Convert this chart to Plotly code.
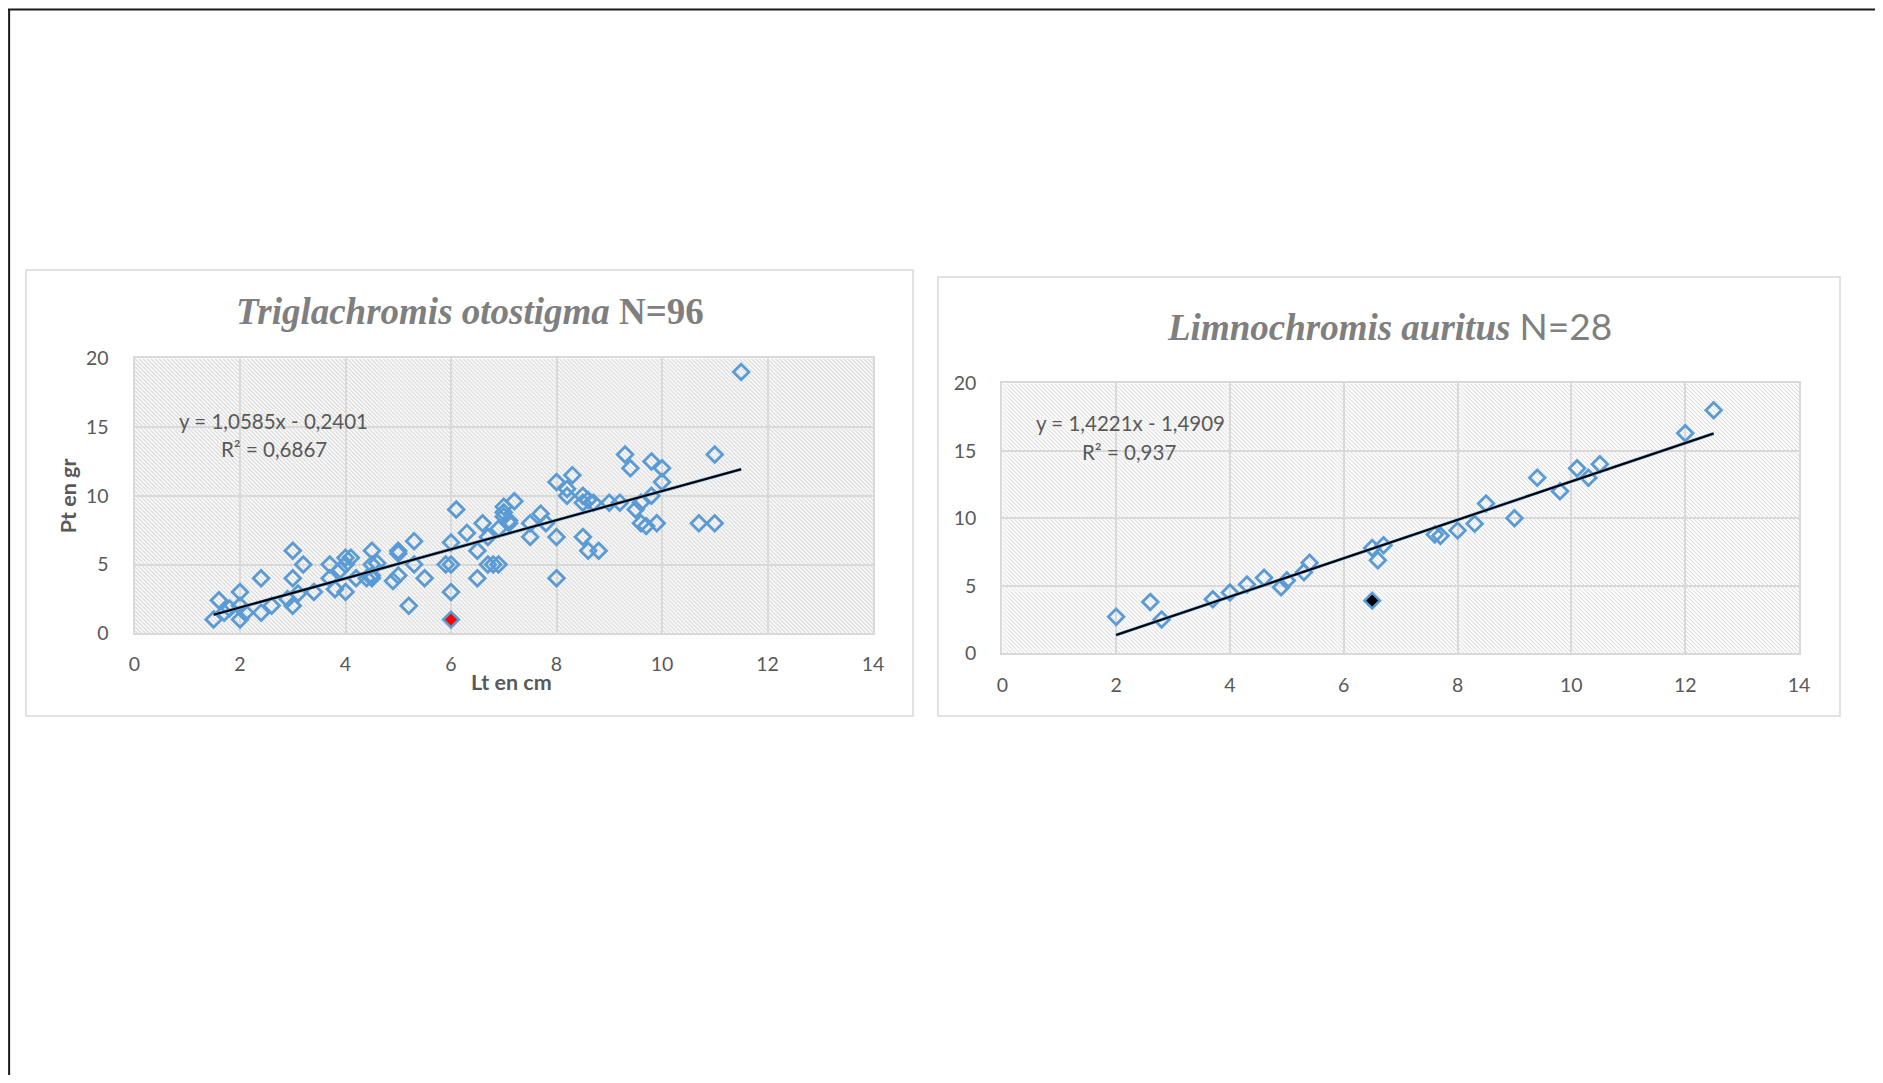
import base64
import plotly.graph_objects as go

# page is 1883x1083; the browser body keeps its default 8px margin,
# so the figure is 16px smaller and every reference pixel is shifted by OFF.
OFF = 8
W, H = 1883 - 2 * OFF, 1083 - 2 * OFF

# ---------------- data ----------------
# Triglachromis otostigma (N=96) : Lt (cm) vs Pt (g)
tri_lt = [1.5, 1.6, 1.7, 1.8, 2.0, 2.0, 2.0, 2.1, 2.4, 2.4, 2.6, 2.9, 3.0, 3.0, 3.0, 3.1,
          3.2, 3.4, 3.7, 3.7, 3.8, 3.9, 4.0, 4.0, 4.0, 4.1, 4.2, 4.4, 4.5, 4.5, 4.5, 4.6,
          4.5, 4.9, 5.0, 5.0, 5.0, 5.2, 5.3, 5.3, 5.5, 5.9, 6.0, 6.0, 6.0, 6.1, 6.3, 6.5,
          6.5, 6.6, 6.7, 6.7, 6.8, 6.9, 6.9, 7.0, 7.0, 7.1, 7.1, 7.2, 7.5, 7.5, 7.7, 7.8,
          8.0, 8.0, 8.0, 8.2, 8.2, 8.3, 8.5, 8.5, 8.5, 8.6, 8.6, 8.7, 8.8, 9.0, 9.2, 9.3,
          9.4, 9.5, 9.6, 9.7, 9.6, 9.8, 9.8, 9.9, 10.0, 10.0, 10.7, 11.0, 11.0, 11.5, 7.0]
tri_pt = [1.0, 2.4, 1.5, 1.8, 3.0, 1.0, 2.0, 1.5, 4.0, 1.5, 2.0, 2.5, 6.0, 4.0, 2.0, 2.9,
          5.0, 3.0, 5.0, 4.0, 3.2, 4.6, 5.5, 5.0, 3.0, 5.5, 4.0, 4.0, 6.0, 5.0, 4.0, 5.1,
          4.2, 3.8, 6.0, 5.8, 4.2, 2.0, 6.7, 5.0, 4.0, 5.0, 6.6, 5.0, 3.0, 9.0, 7.3, 6.0,
          4.0, 8.0, 5.0, 7.0, 5.0, 5.0, 7.6, 9.2, 8.8, 8.0, 8.2, 9.6, 8.0, 7.0, 8.7, 8.0,
          11.0, 7.0, 4.0, 10.5, 10.0, 11.5, 10.0, 9.5, 7.0, 6.0, 9.7, 9.5, 6.0, 9.5, 9.5, 13.0,
          12.0, 9.0, 8.0, 7.8, 9.5, 12.5, 10.0, 8.0, 12.0, 11.0, 8.0, 13.0, 8.0, 19.0, 8.5]
tri_hi_lt = [6.0]   # highlighted point (red)
tri_hi_pt = [1.0]
tri_slope, tri_icpt = 1.0585, -0.2401
tri_eq = "y = 1,0585x - 0,2401"
tri_r2 = "R² = 0,6867"

# Limnochromis auritus (N=28)
lim_lt = [2.0, 2.6, 2.8, 3.7, 4.0, 4.3, 4.6, 4.9, 5.0, 5.3, 5.4, 6.5, 6.7, 6.6,
          7.6, 7.7, 8.0, 8.3, 8.5, 9.0, 9.4, 9.8, 10.1, 10.3, 10.5, 12.0, 12.5]
lim_pt = [2.7, 3.8, 2.5, 4.0, 4.5, 5.1, 5.6, 4.9, 5.4, 6.0, 6.7, 7.8, 8.0, 6.9,
          8.8, 8.7, 9.1, 9.6, 11.1, 10.0, 13.0, 12.0, 13.7, 13.0, 14.0, 16.3, 18.0]
lim_hi_lt = [6.5]   # highlighted point (black)
lim_hi_pt = [3.9]
lim_slope, lim_icpt = 1.4221, -1.4909
lim_eq = "y = 1,4221x - 1,4909"
lim_r2 = "R² = 0,937"

x_ticks = [0, 2, 4, 6, 8, 10, 12, 14]
y_ticks = [0, 5, 10, 15, 20]

# ---------------- helpers ----------------
def px(x):
    return (x - OFF) / W


def py(y):
    return 1 - (y - OFF) / H


BLUE = "#5b9bd5"
GRID = "#d9d9d9"
TXT = "#595959"
TITLE_C = "#7f7f7f"


def hatch_uri(w, h):
    svg = (f"<svg xmlns='http://www.w3.org/2000/svg' width='{w}' height='{h}'>"
           "<defs><pattern id='p' width='4' height='4' patternUnits='userSpaceOnUse'>"
           "<rect width='4' height='4' fill='white'/>"
           "<path d='M-1,3 L1,5 M-1,-1 L5,5 M3,-1 L5,1' stroke='#cfcfcf' stroke-width='1'/>"
           "</pattern></defs><rect width='100%' height='100%' fill='url(#p)'/></svg>")
    return "data:image/svg+xml;base64," + base64.b64encode(svg.encode()).decode()


fig = go.Figure()


def add_panel(lt, pt, hi_lt, hi_pt, hi_color, slope, icpt, xa, ya):
    fig.add_trace(go.Scatter(
        x=lt, y=pt, mode="markers", xaxis=xa, yaxis=ya, showlegend=False,
        marker=dict(symbol="diamond-open", size=12, color=BLUE, line=dict(width=2.8, color=BLUE))))
    fig.add_trace(go.Scatter(
        x=hi_lt, y=hi_pt, mode="markers", xaxis=xa, yaxis=ya, showlegend=False,
        marker=dict(symbol="diamond", size=12, color=hi_color, line=dict(width=2.6, color=BLUE))))
    xs = [min(lt + hi_lt), max(lt + hi_lt)]
    ys = [slope * v + icpt for v in xs]
    fig.add_trace(go.Scatter(
        x=xs, y=ys, mode="lines", xaxis=xa, yaxis=ya, showlegend=False,
        line=dict(color=BLUE, width=3.2), hoverinfo="skip"))
    fig.add_trace(go.Scatter(
        x=xs, y=ys, mode="lines", xaxis=xa, yaxis=ya, showlegend=False,
        line=dict(color="black", width=2), hoverinfo="skip"))


add_panel(tri_lt, tri_pt, tri_hi_lt, tri_hi_pt, "#ff0000", tri_slope, tri_icpt, "x", "y")
add_panel(lim_lt, lim_pt, lim_hi_lt, lim_hi_pt, "#000000", lim_slope, lim_icpt, "x2", "y2")

axis_common = dict(
    showgrid=True, gridcolor=GRID, gridwidth=2, zeroline=False,
    showline=True, mirror=True, linecolor=GRID, linewidth=2,
    ticks="outside", tickcolor="rgba(0,0,0,0)",
    tickfont=dict(family="Lato", size=19.5, color=TXT), fixedrange=True,
)

# panel geometry (reference pixels)
L1 = (134.5, 873.0, 358.3, 633.3)
L2 = (1002.3, 1799.0, 383.3, 653.3)

fig.update_layout(
    width=W, height=H, margin=dict(l=0, r=0, t=0, b=0, autoexpand=False),
    paper_bgcolor="white", plot_bgcolor="white", showlegend=False,
    xaxis=dict(axis_common, range=[0, 14], tickvals=x_ticks, ticklen=12,
               domain=[px(L1[0]), px(L1[1])], anchor="y"),
    yaxis=dict(axis_common, range=[0, 20], tickvals=y_ticks, ticklen=20,
               domain=[py(L1[3]), py(L1[2])], anchor="x"),
    xaxis2=dict(axis_common, range=[0, 14], tickvals=x_ticks, ticklen=13,
                domain=[px(L2[0]), px(L2[1])], anchor="y2"),
    yaxis2=dict(axis_common, range=[0, 20], tickvals=y_ticks, ticklen=20,
                domain=[py(L2[3]), py(L2[2])], anchor="x2"),
)

fig.update_layout(images=[
    dict(source=hatch_uri(round(L1[1] - L1[0]), round(L1[3] - L1[2])), xref="x", yref="y",
         x=0, y=20, sizex=14, sizey=20, xanchor="left", yanchor="top",
         sizing="stretch", layer="below"),
    dict(source=hatch_uri(round(L2[1] - L2[0]), round(L2[3] - L2[2])), xref="x2", yref="y2",
         x=0, y=20, sizex=14, sizey=20, xanchor="left", yanchor="top",
         sizing="stretch", layer="below"),
])

shapes = [
    # chart boxes
    dict(type="rect", xref="paper", yref="paper", x0=px(26), x1=px(913), y0=py(716), y1=py(270),
         line=dict(color=GRID, width=1.5), fillcolor="rgba(0,0,0,0)", layer="below"),
    dict(type="rect", xref="paper", yref="paper", x0=px(938), x1=px(1840), y0=py(716), y1=py(277),
         line=dict(color=GRID, width=1.5), fillcolor="rgba(0,0,0,0)", layer="below"),
    # page frame
    dict(type="line", xref="paper", yref="paper", x0=0, x1=1, y0=py(9.6), y1=py(9.6),
         line=dict(color="#1a1a1a", width=2)),
    dict(type="line", xref="paper", yref="paper", x0=0.0006, x1=0.0006, y0=py(9.6), y1=0,
         line=dict(color="#1a1a1a", width=2)),
]
fig.update_layout(shapes=shapes)

ann = []
ann.append(dict(text="<b><i>Triglachromis otostigma</i> N=96</b>", x=px(469.5), y=py(311),
                xref="paper", yref="paper", xanchor="center", yanchor="middle", showarrow=False,
                font=dict(family="Liberation Serif", size=37, color=TITLE_C)))
ann.append(dict(text="<b><i>Limnochromis auritus</i></b> <span style='font-family:Lato'>N=28</span>",
                x=px(1389), y=py(326), xref="paper", yref="paper", xanchor="center",
                yanchor="middle", showarrow=False,
                font=dict(family="Liberation Serif", size=37, color=TITLE_C)))
for txt, xx, yy in [(tri_eq, 273, 421), (tri_r2, 273.6, 449), (lim_eq, 1130, 423.3), (lim_r2, 1129, 451.7)]:
    ann.append(dict(text=txt, x=px(xx), y=py(yy), xref="paper", yref="paper", xanchor="center",
                    yanchor="middle", showarrow=False, font=dict(family="Lato", size=20.5, color=TXT)))
ann.append(dict(text="<b>Pt en gr</b>", x=px(67.5), y=py(495.8), xref="paper", yref="paper",
                xanchor="center", yanchor="middle", textangle=-90, showarrow=False,
                font=dict(family="Lato", size=21.5, color=TXT)))
ann.append(dict(text="<b>Lt en cm</b>", x=px(511), y=py(682), xref="paper", yref="paper",
                xanchor="center", yanchor="middle", showarrow=False,
                font=dict(family="Lato", size=21.5, color=TXT)))
fig.update_layout(annotations=ann)

fig.write_html("out.html", config={"displayModeBar": False})
